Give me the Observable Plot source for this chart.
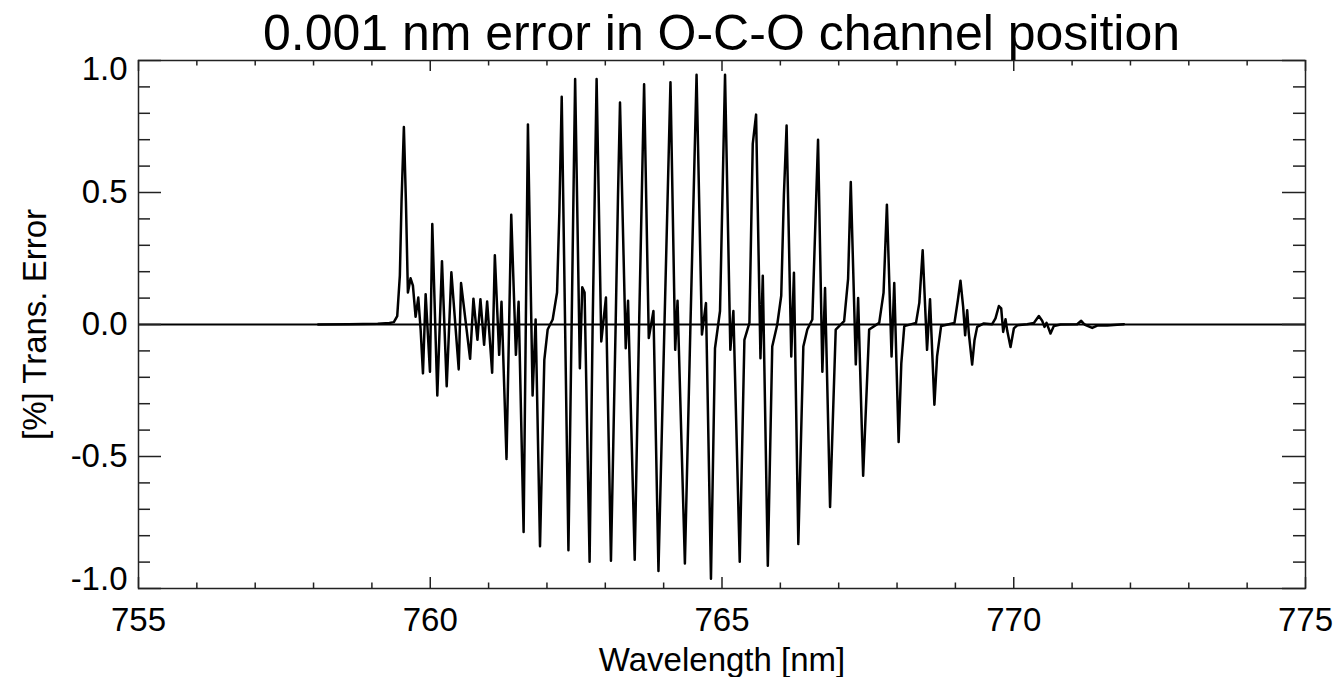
<!DOCTYPE html>
<html>
<head>
<meta charset="utf-8">
<script src="https://cdn.jsdelivr.net/npm/d3@7"></script>
<script src="https://cdn.jsdelivr.net/npm/@observablehq/plot@0.6"></script>
<style>
html, body { margin: 0; padding: 0; background: #fff; }
#wrap { position: relative; width: 1340px; height: 677px; font-family: "Liberation Sans", Arial, Helvetica, sans-serif; }
#title { position: absolute; left: 138px; width: 1167px; top: 8px; text-align: center; font-size: 50px; line-height: 1; color: #000; white-space: nowrap; }
#chart { position: absolute; left: 0; top: 0; }
</style>
</head>
<body>
<div id="wrap">
  <div id="chart"></div>
  <div id="title"></div>
</div>
<script>
// ---- text ----
const titleText = "0.001 nm error in O-C-O channel position";
const xLabel = "Wavelength [nm]";
const yLabel = "[%] Trans. Error";

// ---- axis ticks ----
const xTickValues = [755, 760, 765, 770, 775];
const xTickLabels = ["755", "760", "765", "770", "775"];
const xMinorTicks = [756, 757, 758, 759, 761, 762, 763, 764, 766, 767, 768, 769, 771, 772, 773, 774];
const yTickValues = [-1.0, -0.5, 0.0, 0.5, 1.0];
const yTickLabels = ["-1.0", "-0.5", "0.0", "0.5", "1.0"];
const yMinorTicks = [-0.9, -0.8, -0.7, -0.6, -0.4, -0.3, -0.2, -0.1, 0.1, 0.2, 0.3, 0.4, 0.6, 0.7, 0.8, 0.9];

// ---- series ----
const wavelength = [
  758.08, 758.60, 759.10, 759.30, 759.376, 759.434, 759.479, 759.508, 759.548, 759.583,
  759.617, 759.663, 759.703, 759.749, 759.795, 759.835, 759.875, 759.921, 759.995, 760.035,
  760.121, 760.201, 760.282, 760.362, 760.488, 760.528, 760.683, 760.740, 760.809, 760.860,
  760.923, 760.975, 761.061, 761.107, 761.181, 761.221, 761.307, 761.388, 761.468, 761.514,
  761.600, 761.674, 761.754, 761.806, 761.881, 761.955, 762.012, 762.098, 762.173, 762.213,
  762.253, 762.368, 762.483, 762.564, 762.605, 762.645, 762.731, 762.782, 762.851, 762.931,
  763.011, 763.097, 763.178, 763.218, 763.252, 763.350, 763.390, 763.504, 763.579, 763.665,
  763.745, 763.825, 763.911, 764.009, 764.117, 764.198, 764.238, 764.364, 764.456, 764.564,
  764.656, 764.725, 764.811, 764.880, 764.966, 765.052, 765.143, 765.195, 765.304, 765.384,
  765.470, 765.527, 765.584, 765.659, 765.699, 765.785, 765.861, 765.947, 766.015, 766.061,
  766.107, 766.187, 766.233, 766.308, 766.394, 766.462, 766.548, 766.646, 766.720, 766.766,
  766.852, 766.949, 767.093, 767.161, 767.207, 767.293, 767.333, 767.419, 767.522, 767.694,
  767.769, 767.826, 767.906, 767.952, 768.027, 768.073, 768.124, 768.325, 768.382, 768.439,
  768.514, 768.565, 768.640, 768.686, 768.755, 768.984, 769.042, 769.087, 769.133, 769.167,
  769.202, 769.230, 769.287, 769.327, 769.373, 769.487, 769.630, 769.687, 769.745, 769.785,
  769.819, 769.859, 769.887, 769.945, 770.002, 770.059, 770.230, 770.345, 770.430, 770.487,
  770.527, 770.562, 770.630, 770.687, 770.802, 771.087, 771.156, 771.213, 771.345, 771.430,
  771.602, 771.773, 771.888
];
const transError = [
  0.000, 0.001, 0.003, 0.006, 0.009, 0.032, 0.185, 0.467, 0.748, 0.467,
  0.121, 0.175, 0.147, 0.029, 0.102, -0.019, -0.185, 0.115, -0.179, 0.381,
  -0.269, 0.240, -0.234, 0.198, -0.170, 0.157, -0.130, 0.098, -0.058, 0.096,
  -0.077, 0.087, -0.183, 0.262, -0.115, 0.086, -0.509, 0.416, -0.115, 0.086,
  -0.786, 0.758, -0.269, 0.019, -0.840, -0.134, -0.019, 0.019, 0.121, 0.428,
  0.863, -0.855, 0.930, -0.166, 0.141, 0.121, -0.899, -0.019, 0.930, -0.064,
  0.102, -0.895, 0.006, 0.492, 0.841, -0.090, 0.090, -0.891, -0.006, 0.910,
  -0.051, 0.051, -0.934, -0.045, 0.918, -0.096, 0.090, -0.905, -0.032, 0.946,
  -0.038, 0.081, -0.963, -0.090, 0.051, 0.946, -0.096, 0.051, -0.899, -0.058,
  0.006, 0.684, 0.795, -0.128, 0.185, -0.914, -0.083, 0.000, 0.109, 0.492,
  0.754, -0.121, 0.196, -0.831, -0.083, -0.019, 0.019, 0.700, -0.179, 0.138,
  -0.691, -0.019, 0.013, 0.173, 0.540, -0.151, 0.100, -0.573, -0.019, 0.006,
  0.121, 0.454, -0.121, 0.157, -0.445, -0.147, -0.006, 0.006, 0.083, 0.281,
  -0.096, 0.096, -0.304, -0.121, -0.006, 0.006, 0.092, 0.166, 0.067, -0.041,
  0.054, -0.034, -0.152, -0.060, -0.009, 0.004, 0.001, 0.023, 0.070, 0.061,
  -0.028, 0.020, -0.022, -0.085, -0.015, -0.003, 0.001, 0.006, 0.032, 0.014,
  -0.009, 0.006, -0.034, -0.006, 0.000, 0.001, 0.014, 0.000, -0.013, -0.004,
  -0.004, -0.001, 0.001
];

// ---- layout ----
const W = 1340, H = 677;
const mt = 60, mb = 89, ml = 138, mr = 35;
const fw = W - ml - mr, fh = H - mt - mb;
const ink = "#000";
const axisInk = "#222";
const font = "'Liberation Sans', Arial, Helvetica, sans-serif";

const series = wavelength.map((x, i) => ({x, y: transError[i]}));
const xTicks = xTickValues.map((v, i) => ({v, label: xTickLabels[i]}));
const yTicks = yTickValues.map((v, i) => ({v, label: yTickLabels[i]}));
const yTicksMid = yTicks.filter(d => Math.abs(d.v) < 1);
const yTickTop = yTicks.filter(d => d.v === 1);
const yTickBottom = yTicks.filter(d => d.v === -1);

document.getElementById("title").textContent = titleText;

const chart = Plot.plot({
  width: W,
  height: H,
  marginTop: mt,
  marginBottom: mb,
  marginLeft: ml,
  marginRight: mr,
  x: {domain: [755, 775], axis: null},
  y: {domain: [-1, 1], axis: null},
  style: {fontFamily: font, background: "white", color: ink, overflow: "visible"},
  marks: [
    Plot.ruleY([0], {stroke: ink, strokeWidth: 2.2}),
    Plot.line(series, {x: "x", y: "y", stroke: ink, strokeWidth: 2.5, strokeLinejoin: "round"}),
    // bottom ticks (inward)
    Plot.tickX(xMinorTicks, {x: d => d, insetTop: fh - 5.5, stroke: axisInk, strokeWidth: 1.5}),
    Plot.tickX(xTickValues, {x: d => d, insetTop: fh - 11, stroke: axisInk, strokeWidth: 1.5}),
    // top ticks
    Plot.tickX(xMinorTicks, {x: d => d, insetBottom: fh - 5.5, stroke: axisInk, strokeWidth: 1.5}),
    Plot.tickX(xTickValues, {x: d => d, insetBottom: fh - 11, stroke: axisInk, strokeWidth: 1.5}),
    // left ticks
    Plot.tickY(yMinorTicks, {y: d => d, insetRight: fw - 12, stroke: axisInk, strokeWidth: 1.5}),
    Plot.tickY(yTickValues, {y: d => d, insetRight: fw - 23, stroke: axisInk, strokeWidth: 1.5}),
    // right ticks
    Plot.tickY(yMinorTicks, {y: d => d, insetLeft: fw - 12, stroke: axisInk, strokeWidth: 1.5}),
    Plot.tickY(yTickValues, {y: d => d, insetLeft: fw - 23, stroke: axisInk, strokeWidth: 1.5}),
    Plot.frame({stroke: axisInk, strokeWidth: 1.5}),
    // tick labels
    Plot.text(xTicks, {x: "v", text: "label", frameAnchor: "bottom", dy: 32, textAnchor: "middle", lineAnchor: "middle", fontSize: 33, fill: ink}),
    Plot.text(yTicksMid, {y: "v", text: "label", frameAnchor: "left", dx: -11, textAnchor: "end", lineAnchor: "middle", fontSize: 33, fill: ink}),
    Plot.text(yTickTop, {y: "v", text: "label", frameAnchor: "left", dx: -11, dy: 9, textAnchor: "end", lineAnchor: "middle", fontSize: 33, fill: ink}),
    Plot.text(yTickBottom, {y: "v", text: "label", frameAnchor: "left", dx: -11, dy: -9, textAnchor: "end", lineAnchor: "middle", fontSize: 33, fill: ink}),
    // axis titles
    Plot.text([xLabel], {text: d => d, frameAnchor: "bottom", dy: 72, textAnchor: "middle", lineAnchor: "middle", fontSize: 33, fill: ink}),
    Plot.text([yLabel], {text: d => d, frameAnchor: "left", dx: -103, rotate: -90, textAnchor: "middle", lineAnchor: "middle", fontSize: 33, fill: ink})
  ]
});
document.getElementById("chart").appendChild(chart);
</script>
</body>
</html>
